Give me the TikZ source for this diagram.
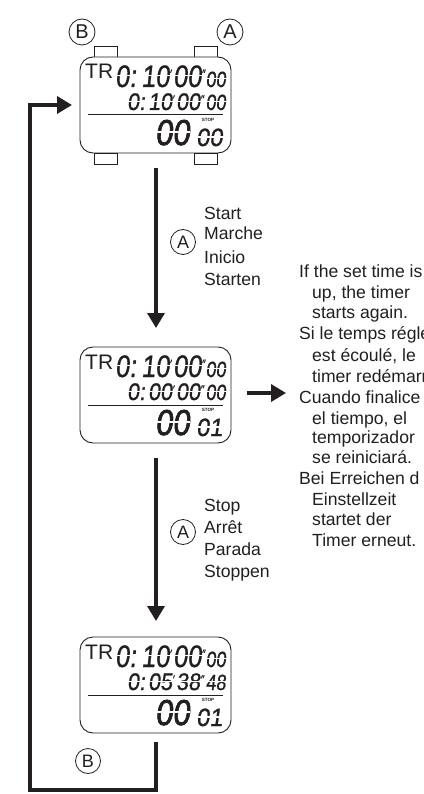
\documentclass[tikz,border=0pt]{standalone}
\usepackage{fontspec}
\usepackage{graphicx}
\setmainfont{Liberation Sans}
\newfontfamily\lcdf[FakeSlant=0.14,FakeBold=1]{Liberation Sans}
\newfontfamily\lcdfb[FakeSlant=0.14,FakeBold=2.2]{Liberation Sans}
\usetikzlibrary{arrows.meta}
\definecolor{ink}{HTML}{231F20}
\tikzset{
  x=1pt,y=-1pt,
  body/.style={draw=ink,line width=0.9pt,rounded corners=13pt,minimum width=151pt,minimum height=96pt,inner sep=0,fill=white},
  tabbox/.style={draw=ink,line width=0.8pt,minimum width=23pt,minimum height=11pt,inner sep=0,fill=white},
  lcd/.style={anchor=base west,inner sep=0,text=ink,font=\lcdf\fontsize{#1}{#1}\selectfont},
  lcdbig/.style={anchor=base west,inner sep=0,text=ink,font=\lcdfb\fontsize{#1}{#1}\selectfont},
  cut/.style={draw=white,line width=1.3pt},
  rulel/.style={draw=ink,line width=1pt},
  tr/.style={anchor=base west,inner sep=0,text=ink,font=\fontsize{21}{21}\selectfont},
  stopt/.style={inner sep=0,text=ink,font=\fontsize{4.6}{4.6}\selectfont\bfseries},
  btn/.style={circle,draw=ink,line width=0.8pt,minimum size=26pt,inner sep=0,text=ink,font=\fontsize{20}{20}\selectfont},
  btnsm/.style={circle,draw=ink,line width=0.8pt,minimum size=25pt,inner sep=0,text=ink,font=\fontsize{18}{18}\selectfont},
  lab/.style={anchor=base west,inner sep=0,text=ink,font=\fontsize{17.6}{17.6}\selectfont},
  flow/.style={draw=ink,line width=3.5pt,-{Triangle[length=15pt,width=17pt]}},
}
\newcommand{\sqz}[2]{\scalebox{#1}[1]{#2}}
\newcommand{\prmA}{\raisebox{9pt}{\fontsize{12}{12}\selectfont ′}}
\newcommand{\prmB}{\raisebox{9pt}{\fontsize{12}{12}\selectfont ″}}
\newcommand{\prmC}{\raisebox{7pt}{\fontsize{11}{11}\selectfont ′}}
\newcommand{\prmD}{\raisebox{7pt}{\fontsize{11}{11}\selectfont ″}}
% name, dy, row-2 minutes, row-2 seconds, row-2 hundredths, bottom small
\newcommand{\watchunit}[6]{%
  \begin{scope}[shift={(0,#2)}]
    \node[body] (#1) at (155.5,105) {};
    \node[tr,name=#1tr] at (85,79) {TR};
    \node[lcd=31,name=#1a] at (115,87) {\sqz{.82}{0:}};
    \node[lcd=31,name=#1b] at (141,87) {\sqz{.82}{10\prmA}};
    \node[lcd=31,name=#1c] at (173,87) {\sqz{.82}{00\prmB}};
    \node[lcd=22,name=#1d] at (205.5,87) {\sqz{.82}{00}};
    \node[lcd=24,name=#1e] at (127,110) {\sqz{.9}{0:}};
    \node[lcd=24,name=#1f] at (148,110) {\sqz{.9}{#3\prmC}};
    \node[lcd=24,name=#1g] at (176,110) {\sqz{.9}{#4\prmD}};
    \node[lcd=22,name=#1h] at (205.5,110) {\sqz{.82}{#5}};
    \node[lcdbig=36,name=#1big] at (155,145) {\sqz{.86}{00}};
    \node[lcd=25,name=#1small] at (196,146) {\sqz{.95}{#6}};
    \node[stopt,name=#1stop] at (208,120) {STOP};
    \coordinate (#1ruleL) at (88,115);
    \coordinate (#1ruleR) at (223,115);
    \draw[rulel] (#1ruleL) -- (#1ruleR);
    \draw[cut] (113,75.5) -- (202,75.5);
    \draw[cut] (202,78.5) -- (228,78.5);
    \draw[cut] (125,101.5) -- (228,101.5);
    \draw[cut] (154,132) -- (190,132);
    \draw[cut] (194,137) -- (226,137);
  \end{scope}}
\begin{document}
\begin{tikzpicture}
\useasboundingbox (0,0) rectangle (423,794);
\clip (0,0) rectangle (423,794);
\fill[white] (0,0) rectangle (423,794);
% watch tabs
\node[tabbox] (t1) at (105.5,51.5) {};
\node[tabbox] (t2) at (205.5,51.5) {};
\node[tabbox] (t3) at (105.5,158.5) {};
\node[tabbox] (t4) at (205.5,158.5) {};
\node[btn] (bb) at (82,32) {B};
\node[btn] (ba) at (230,32) {A};
% watches
\watchunit{w1}{0}{10}{00}{00}{00}
\watchunit{w2}{290}{00}{00}{00}{01}
\watchunit{w3}{580}{05}{38}{48}{01}
% labels
\node[btnsm] (a1) at (183,242) {A};
\node[lab] at (204,219) {Start};
\node[lab] at (204,240) {Marche};
\node[lab] at (204,263) {Inicio};
\node[lab] at (204,285) {Starten};
\node[btnsm] (a2) at (183,532) {A};
\node[lab] at (204,511) {Stop};
\node[lab] at (204,533) {Arrêt};
\node[lab] at (204,555) {Parada};
\node[lab] at (204,577) {Stoppen};
\node[btnsm] (b2) at (88,761) {B};
\node[lab] at (299,277) {If the set time is};
\node[lab] at (312,298) {up, the timer};
\node[lab] at (312,318) {starts again.};
\node[lab] at (299,339) {Si le temps réglé};
\node[lab] at (312,361) {est écoulé, le};
\node[lab] at (312,382) {timer redémarr};
\node[lab] at (299,403) {Cuando finalice};
\node[lab] at (312,424) {el tiempo, el};
\node[lab] at (312,443) {temporizador};
\node[lab] at (312,463) {se reiniciará.};
\node[lab] at (299,484) {Bei Erreichen d};
\node[lab] at (312,505) {Einstellzeit};
\node[lab] at (312,525) {startet der};
\node[lab] at (312,546) {Timer erneut.};
% connectors
\coordinate (o1) at (156,168);
\coordinate (e1) at (156,328);
\coordinate (o2) at (156,458);
\coordinate (e2) at (156,621);
\draw[flow] (o1) -- (e1);
\draw[flow] (o2) -- (e2);
\coordinate (r1) at (247,393);
\coordinate (r2) at (286,393);
\draw[flow] (r1) -- (r2);
\coordinate (loopS) at (156,742);
\coordinate (loopA) at (156,790);
\coordinate (loopB) at (30,790);
\coordinate (loopC) at (30,105);
\coordinate (loopE) at (72,105);
\draw[flow] (loopS) -- (loopA) -- (loopB) -- (loopC) -- (loopE);
\end{tikzpicture}
\end{document}
